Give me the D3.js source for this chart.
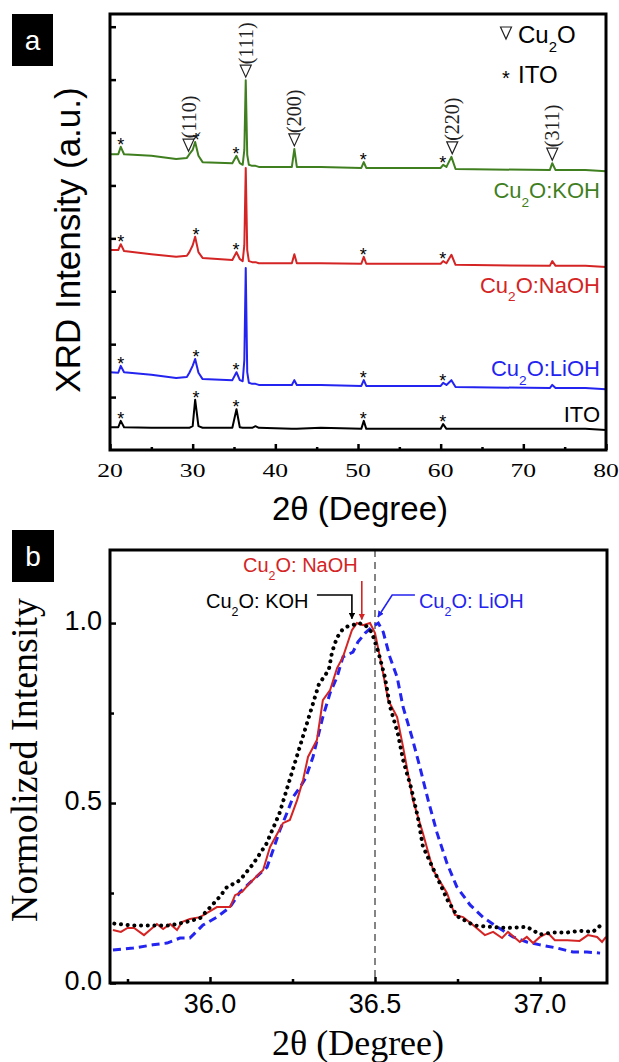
<!doctype html>
<html>
<head>
<meta charset="utf-8">
<script src="https://cdnjs.cloudflare.com/ajax/libs/d3/7.8.5/d3.min.js"></script>
<style>
body { margin: 0; background: #fff; }
svg text { font-family: Arial, "Liberation Sans", sans-serif; }
svg .serif { font-family: "Liberation Serif", "Times New Roman", serif; }
</style>
</head>
<body>
<svg width="619" height="1062"></svg>
<script>
// ---------- panel a : XRD patterns (stacked, a.u.) ----------
var twoTheta = [20, 21, 21.3, 21.7, 25, 28, 29.3, 29.6, 30, 30.3, 30.7, 31.2, 34.8, 35.3, 35.7, 36.05, 36.25, 36.42, 36.6, 36.8,
                37.2, 37.6, 38, 42, 42.3, 42.6, 45.5, 50.4, 50.7, 51, 60, 60.3, 60.7, 61.3, 61.8, 73.2, 73.5, 73.9, 77.5, 80];
var xrdKOH  = [559, 559, 573, 559, 556, 550, 552, 559, 567, 582, 556, 544, 542, 556, 542, 539, 567, 699, 558, 539,
               537, 537, 535, 535, 569, 535, 535, 533, 544, 533, 533, 539, 535, 554, 531, 529, 542, 529, 529, 527];
var xrdNaOH = [378, 378, 389, 376, 370, 365, 367, 374, 387, 403, 374, 363, 359, 374, 361, 357, 387, 533, 378, 357,
               355, 355, 353, 353, 370, 353, 353, 352, 365, 352, 352, 357, 353, 369, 350, 348, 357, 348, 348, 346];
var xrdLiOH = [147, 146, 159, 147, 142, 136, 138, 146, 159, 172, 146, 134, 132, 147, 132, 130, 170, 344, 147, 127,
               125, 125, 123, 123, 132, 123, 123, 121, 132, 121, 121, 127, 123, 132, 119, 117, 123, 117, 117, 115];
var xrdITO  = [43, 43, 55, 43, 42, 42, 42, 42, 45, 95, 45, 42, 42, 77, 43, 42, 42, 42, 42, 42,
               42, 45, 42, 40, 40, 40, 42, 40, 55, 40, 40, 49, 40, 40, 40, 40, 40, 40, 40, 38];
var itoPeaks = [21.3, 30.4, 35.25, 50.65, 60.25];
var cu2oPeaks = [29.5, 36.42, 42.3, 61.4, 73.5];
var cu2oHkl = ["(110)", "(111)", "(200)", "(220)", "(311)"];
var xTicksA = [20, 30, 40, 50, 60, 70, 80];
var xMinorA = [25, 35, 45, 55, 65, 75];
var yTicksA = [100, 200, 300, 400, 500, 600, 700, 800];

// ---------- panel b : normalized (111) peak ----------
var kohTT = [35.71, 35.76, 35.82, 35.88, 35.93, 35.97, 35.99, 36.03, 36.05, 36.07, 36.09, 36.13, 36.17, 36.21, 36.24, 36.27, 36.29,
             36.30, 36.33, 36.36, 36.37, 36.385, 36.40, 36.415, 36.435, 36.45, 36.47, 36.49, 36.51, 36.53, 36.545, 36.57, 36.585,
             36.61, 36.63, 36.645, 36.68, 36.72, 36.75, 36.80, 36.86, 36.90, 36.96, 37.0, 37.04, 37.08, 37.12, 37.16, 37.19];
var kohI  = [0.165, 0.16, 0.16, 0.16, 0.17, 0.18, 0.20, 0.24, 0.265, 0.275, 0.285, 0.33, 0.385, 0.47, 0.56, 0.65, 0.71,
             0.74, 0.83, 0.87, 0.92, 0.96, 0.98, 0.99, 0.995, 1.0, 0.995, 0.975, 0.92, 0.85, 0.77, 0.69, 0.62,
             0.54, 0.46, 0.38, 0.31, 0.23, 0.185, 0.16, 0.155, 0.153, 0.156, 0.135, 0.14, 0.14, 0.145, 0.142, 0.165];
var naTT = [35.706, 35.73, 35.75, 35.77, 35.80, 35.818, 35.839, 35.858, 35.879, 35.90, 35.915, 35.939, 35.97, 36.021, 36.061,
            36.076, 36.097, 36.121, 36.161, 36.182, 36.221, 36.242, 36.264, 36.282, 36.297, 36.324, 36.342, 36.364, 36.385,
            36.403, 36.415, 36.43, 36.445, 36.464, 36.485, 36.50, 36.515, 36.54, 36.567, 36.585, 36.615, 36.645, 36.676,
            36.718, 36.742, 36.767, 36.797, 36.833, 36.858, 36.885, 36.903, 36.939, 36.96, 36.979, 37.0, 37.024, 37.045,
            37.082, 37.12, 37.145, 37.173, 37.188, 37.2];
var naI  = [0.147, 0.142, 0.153, 0.153, 0.133, 0.147, 0.164, 0.15, 0.164, 0.147, 0.169, 0.178, 0.183, 0.211, 0.211,
            0.244, 0.253, 0.278, 0.314, 0.378, 0.444, 0.453, 0.508, 0.564, 0.628, 0.675, 0.786, 0.814, 0.875,
            0.906, 0.939, 0.98, 1.0, 0.994, 1.0, 0.972, 0.906, 0.786, 0.739, 0.656, 0.508, 0.417, 0.314,
            0.25, 0.189, 0.183, 0.161, 0.133, 0.142, 0.125, 0.142, 0.114, 0.128, 0.111, 0.128, 0.139, 0.119,
            0.119, 0.117, 0.133, 0.128, 0.114, 0.128];
var liTT = [35.706, 35.767, 35.827, 35.87, 35.909, 35.939, 35.979, 36.021, 36.061, 36.091, 36.13, 36.173, 36.191, 36.212,
            36.233, 36.252, 36.273, 36.29, 36.312, 36.342, 36.364, 36.385, 36.403, 36.433, 36.448, 36.47, 36.491, 36.51,
            36.525, 36.545, 36.567, 36.585, 36.612, 36.636, 36.661, 36.688, 36.718, 36.748, 36.788, 36.827, 36.87, 36.918,
            36.96, 37.0, 37.052, 37.1, 37.142, 37.182];
var liI  = [0.092, 0.097, 0.106, 0.111, 0.125, 0.125, 0.161, 0.183, 0.211, 0.253, 0.286, 0.322, 0.369, 0.425,
            0.472, 0.517, 0.544, 0.57, 0.628, 0.739, 0.806, 0.85, 0.906, 0.919, 0.947, 0.972, 0.989, 1.0,
            0.975, 0.906, 0.85, 0.767, 0.683, 0.6, 0.508, 0.417, 0.333, 0.267, 0.217, 0.183, 0.156, 0.128,
            0.114, 0.106, 0.097, 0.086, 0.086, 0.083];
var xTicksB = [36.0, 36.5, 37.0];
var xMinorB = [35.75, 36.25, 36.75];
var yTicksB = [0.0, 0.5, 1.0];
var yMinorB = [0.25, 0.75];

var green = "#3f7f1f", red = "#d42424", blue = "#2424f0";
var svg = d3.select("svg");

function cuText(sel, fs, rest) {
  sel.append("tspan").text("Cu");
  sel.append("tspan").attr("font-size", fs * 0.62).attr("dy", fs * 0.38).text("2");
  sel.append("tspan").attr("dy", -fs * 0.38).text(rest);
}

function tickMarks(g, scale, vals, size, orient) {
  var ax = orient === "bottom" ? d3.axisBottom(scale) : d3.axisLeft(scale);
  ax.tickValues(vals).tickSizeInner(-size).tickSizeOuter(0).tickFormat("");
  g.call(ax);
  g.select(".domain").remove();
  g.selectAll(".tick line").attr("stroke", "#000").attr("stroke-width", 2.5);
  return g;
}

function labelBox(x, y, w, h, letter) {
  svg.append("rect").attr("x", x).attr("y", y).attr("width", w).attr("height", h).attr("fill", "#000");
  svg.append("text").attr("x", x + w / 2).attr("y", y + h / 2 + 10).attr("text-anchor", "middle")
    .attr("fill", "#fff").attr("font-size", 28).text(letter);
}

// ===== panel a =====
var xA = d3.scaleLinear().domain([20, 80]).range([110, 606]);
var yA = d3.scaleLinear().domain([0, 824]).range([450, 14]);
var gA = svg.append("g");

var seriesA = [
  {name: "KOH", vals: xrdKOH, color: green, label: "O:KOH", dy: 27},
  {name: "NaOH", vals: xrdNaOH, color: red, label: "O:NaOH", dy: 26},
  {name: "LiOH", vals: xrdLiOH, color: blue, label: "O:LiOH", dy: -13},
  {name: "ITO", vals: xrdITO, color: "#000", label: "ITO", dy: -8}
];
var lineA = d3.line().x(function (d, i) { return xA(twoTheta[i]); }).y(function (d) { return yA(d); });

seriesA.forEach(function (s) {
  gA.append("path").attr("d", lineA(s.vals)).attr("fill", "none")
    .attr("stroke", s.color).attr("stroke-width", 2).attr("stroke-linejoin", "round");

  // ITO asterisks above each ITO reflection
  itoPeaks.forEach(function (p) {
    var top = d3.max(twoTheta.map(function (t, i) { return Math.abs(t - p) < 0.45 ? s.vals[i] : -1; }));
    gA.append("text").attr("x", xA(p)).attr("y", yA(top) + 4).attr("text-anchor", "middle")
      .attr("font-size", 18).text("*");
  });

  var end = s.vals[s.vals.length - 1];
  var t = gA.append("text").attr("x", xA(80) - 6).attr("y", yA(end) + s.dy)
    .attr("text-anchor", "end").attr("fill", s.color).attr("font-size", 22);
  if (s.name === "ITO") t.text("ITO"); else cuText(t, 22, s.label);
});

// Cu2O reflections: nabla + rotated hkl
function nabla(g, cx, cy) {
  g.append("path").attr("d", "M" + (cx - 5.5) + "," + (cy - 6) + "H" + (cx + 5.5) + "L" + cx + "," + (cy + 6) + "Z")
    .attr("fill", "none").attr("stroke", "#222").attr("stroke-width", 1.2);
}
cu2oPeaks.forEach(function (p, k) {
  var top = d3.max(twoTheta.map(function (t, i) { return Math.abs(t - p) < 0.35 ? xrdKOH[i] : -1; }));
  var cy = yA(top) - 9;
  nabla(gA, xA(p), cy);
  gA.append("text").attr("class", "serif").attr("font-size", 20)
    .attr("transform", "translate(" + (xA(p) + 7) + "," + (cy - 7) + ") rotate(-90)")
    .attr("fill", "#222").text(cu2oHkl[k]);
});

// legend
nabla(gA, 506, 33);
var lg = gA.append("text").attr("x", 518).attr("y", 43).attr("font-size", 24);
cuText(lg, 24, "O");
gA.append("text").attr("x", 506).attr("y", 85).attr("text-anchor", "middle").attr("font-size", 20).text("*");
gA.append("text").attr("x", 518).attr("y", 83).attr("font-size", 24).text("ITO");

// axes / frame
tickMarks(gA.append("g").attr("transform", "translate(0,450)"), xA, xTicksA, 6, "bottom");
tickMarks(gA.append("g").attr("transform", "translate(0,450)"), xA, xMinorA, 3, "bottom");
tickMarks(gA.append("g").attr("transform", "translate(110,0)"), yA, yTicksA, 6, "left");
xTicksA.forEach(function (v) {
  gA.append("text").attr("class", "serif").attr("font-size", 19)
    .attr("transform", "translate(" + xA(v) + ",477) scale(1.35,1)")
    .attr("text-anchor", "middle").text(v);
});
gA.append("rect").attr("x", 110).attr("y", 14).attr("width", 496).attr("height", 436)
  .attr("fill", "none").attr("stroke", "#000").attr("stroke-width", 3);
gA.append("text").attr("x", 360).attr("y", 520).attr("text-anchor", "middle").attr("font-size", 33).text("2θ (Degree)");
gA.append("text").attr("transform", "translate(80,240) rotate(-90)").attr("text-anchor", "middle")
  .attr("font-size", 35).text("XRD Intensity (a.u.)");
labelBox(12, 14, 41, 52, "a");

// ===== panel b =====
var xB = d3.scaleLinear().domain([35.697, 37.203]).range([110, 607]);
var yB = d3.scaleLinear().domain([0, 1.203]).range([983, 550]);
var gB = svg.append("g");

gB.append("line").attr("x1", xB(36.5)).attr("x2", xB(36.5)).attr("y1", 550).attr("y2", 983)
  .attr("stroke", "#666").attr("stroke-width", 1.6).attr("stroke-dasharray", "7,5");

var lineB = d3.line().x(function (d) { return xB(d[0]); }).y(function (d) { return yB(d[1]); });
gB.append("path").attr("d", lineB(d3.zip(liTT, liI))).attr("fill", "none")
  .attr("stroke", blue).attr("stroke-width", 3).attr("stroke-dasharray", "8,5");
gB.append("path").attr("d", lineB(d3.zip(naTT, naI))).attr("fill", "none")
  .attr("stroke", red).attr("stroke-width", 2);
gB.append("path").attr("d", lineB(d3.zip(kohTT, kohI))).attr("fill", "none")
  .attr("stroke", "#000").attr("stroke-width", 4).attr("stroke-linecap", "round").attr("stroke-dasharray", "0.1,6.6");

// annotations
var defs = svg.append("defs");
[["ah-k", "#000"], ["ah-n", red], ["ah-l", blue]].forEach(function (a) {
  defs.append("marker").attr("id", a[0]).attr("viewBox", "0 0 10 10").attr("refX", 9).attr("refY", 5)
    .attr("markerWidth", 4).attr("markerHeight", 4).attr("orient", "auto")
    .append("path").attr("d", "M0,0L10,5L0,10Z").attr("fill", a[1]);
});
var arrowLine = d3.line().x(function (d) { return xB(d[0]); }).y(function (d) { return yB(d[1]); });
gB.append("path").attr("d", arrowLine([[36.324, 1.078], [36.43, 1.078], [36.43, 1.012]]))
  .attr("fill", "none").attr("stroke", "#000").attr("stroke-width", 1.6).attr("marker-end", "url(#ah-k)");
gB.append("path").attr("d", arrowLine([[36.46, 1.117], [36.46, 1.01]]))
  .attr("fill", "none").attr("stroke", red).attr("stroke-width", 1.6).attr("marker-end", "url(#ah-n)");
gB.append("path").attr("d", arrowLine([[36.621, 1.078], [36.552, 1.078], [36.509, 1.017]]))
  .attr("fill", "none").attr("stroke", blue).attr("stroke-width", 1.6).attr("marker-end", "url(#ah-l)");
var an = gB.append("text").attr("x", xB(36.1)).attr("y", yB(1.142)).attr("fill", red).attr("font-size", 20);
cuText(an, 20, "O: NaOH");
var ak = gB.append("text").attr("x", xB(35.988)).attr("y", yB(1.042)).attr("fill", "#000").attr("font-size", 20);
cuText(ak, 20, "O: KOH");
var al = gB.append("text").attr("x", xB(36.633)).attr("y", yB(1.042)).attr("fill", blue).attr("font-size", 20);
cuText(al, 20, "O: LiOH");

tickMarks(gB.append("g").attr("transform", "translate(0,983)"), xB, xTicksB, 6, "bottom");
tickMarks(gB.append("g").attr("transform", "translate(0,983)"), xB, xMinorB, 4, "bottom");
tickMarks(gB.append("g").attr("transform", "translate(110,0)"), yB, yTicksB, 6, "left");
tickMarks(gB.append("g").attr("transform", "translate(110,0)"), yB, yMinorB, 4, "left");
xTicksB.forEach(function (v) {
  gB.append("text").attr("x", xB(v)).attr("y", 1013).attr("text-anchor", "middle").attr("font-size", 27).text(d3.format(".1f")(v));
});
yTicksB.forEach(function (v) {
  gB.append("text").attr("x", 102).attr("y", yB(v) + 7).attr("text-anchor", "end").attr("font-size", 27).text(d3.format(".1f")(v));
});
gB.append("rect").attr("x", 110).attr("y", 550).attr("width", 497).attr("height", 433)
  .attr("fill", "none").attr("stroke", "#000").attr("stroke-width", 3);
gB.append("text").attr("class", "serif").attr("x", 358).attr("y", 1055).attr("text-anchor", "middle")
  .attr("font-size", 36).text("2θ (Degree)");
gB.append("text").attr("class", "serif").attr("transform", "translate(37,760) rotate(-90)").attr("text-anchor", "middle")
  .attr("font-size", 38).text("Normolized Intensity");
labelBox(12, 530, 42, 52, "b");
</script>
</body>
</html>
